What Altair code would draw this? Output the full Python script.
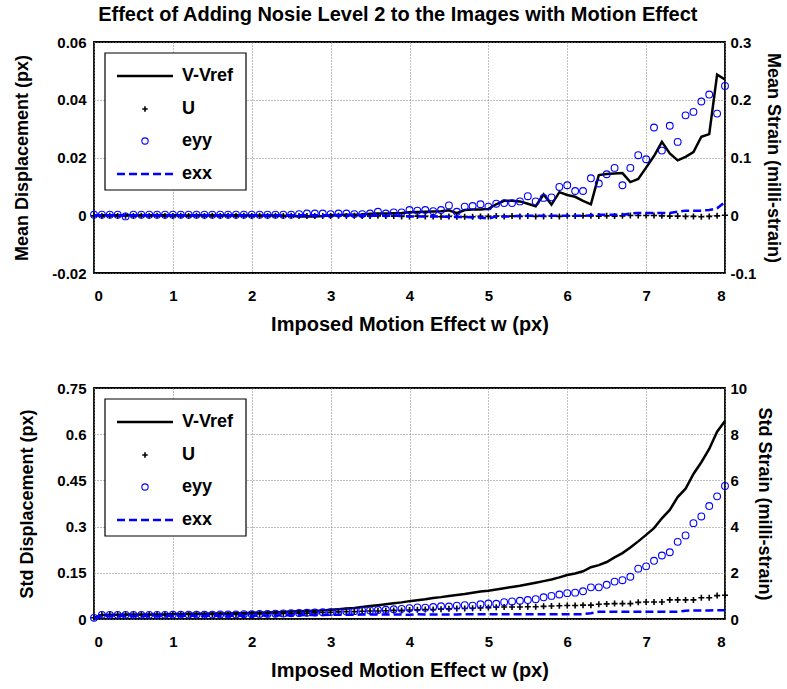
import altair as alt
import pandas as pd

FONT = "Liberation Sans"

motion_w = [0.0, 0.1, 0.2, 0.3, 0.4, 0.5, 0.6, 0.7, 0.8, 0.9,
            1.0, 1.1, 1.2, 1.3, 1.4, 1.5, 1.6, 1.7, 1.8, 1.9,
            2.0, 2.1, 2.2, 2.3, 2.4, 2.5, 2.6, 2.7, 2.8, 2.9,
            3.0, 3.1, 3.2, 3.3, 3.4, 3.5, 3.6, 3.7, 3.8, 3.9,
            4.0, 4.1, 4.2, 4.3, 4.4, 4.5, 4.6, 4.7, 4.8, 4.9,
            5.0, 5.1, 5.2, 5.3, 5.4, 5.5, 5.6, 5.7, 5.8, 5.9,
            6.0, 6.1, 6.2, 6.3, 6.4, 6.5, 6.6, 6.7, 6.8, 6.9,
            7.0, 7.1, 7.2, 7.3, 7.4, 7.5, 7.6, 7.7, 7.8, 7.9,
            8.0]

# ---- top panel: mean values ----
mean_v = [0.0000, 0.0000, 0.0000, 0.0000, 0.0000, 0.0000, 0.0000, 0.0000, 0.0000, 0.0000,
          0.0000, 0.0000, -0.0001, 0.0000, 0.0000, 0.0000, -0.0001, 0.0000, 0.0000, 0.0000,
          -0.0001, -0.0001, -0.0001, -0.0001, -0.0002, -0.0002, -0.0004, -0.0004, -0.0004, -0.0003,
          0.0000, 0.0001, 0.0002, 0.0002, 0.0003, 0.0005, 0.0006, 0.0006, 0.0007, 0.0008,
          0.0010, 0.0011, 0.0012, 0.0013, 0.0014, 0.0017, 0.0007, 0.0018, 0.0020, 0.0020,
          0.0022, 0.0038, 0.0050, 0.0050, 0.0048, 0.0040, 0.0031, 0.0072, 0.0037, 0.0080,
          0.0070, 0.0064, 0.0050, 0.0038, 0.0139, 0.0143, 0.0145, 0.0146, 0.0115, 0.0126,
          0.0165, 0.0205, 0.0254, 0.0214, 0.0190, 0.0202, 0.0219, 0.0272, 0.0281, 0.0487,
          0.0470]
mean_u = [-0.0002, -0.0003, -0.0002, -0.0003, -0.0002, -0.0003, -0.0002, -0.0003, -0.0002, -0.0003,
          -0.0003, -0.0002, -0.0003, -0.0002, -0.0003, -0.0002, -0.0003, -0.0002, -0.0003, -0.0002,
          -0.0003, -0.0002, -0.0003, -0.0002, -0.0003, -0.0002, -0.0003, -0.0003, -0.0003, -0.0003,
          -0.0003, -0.0002, -0.0003, -0.0002, -0.0003, -0.0003, -0.0002, -0.0003, -0.0003, -0.0004,
          -0.0004, -0.0003, -0.0004, -0.0004, -0.0005, -0.0004, -0.0005, -0.0005, -0.0005, -0.0004,
          -0.0004, -0.0003, -0.0004, -0.0003, -0.0004, -0.0003, -0.0004, -0.0004, -0.0003, -0.0004,
          -0.0002, -0.0003, -0.0002, -0.0002, -0.0003, -0.0002, -0.0003, -0.0002, -0.0001, -0.0001,
          -0.0001, -0.0001, -0.0002, -0.0003, -0.0003, -0.0004, -0.0004, -0.0005, -0.0004, -0.0002,
          0.0000]
mean_eyy = [0.001, 0.001, 0.001, 0.001, -0.002, 0.001, 0.001, 0.001, 0.001, 0.001,
            0.001, 0.001, 0.001, 0.001, 0.001, 0.001, 0.001, 0.001, 0.001, 0.001,
            0.001, 0.001, 0.001, 0.001, 0.001, 0.001, 0.002, 0.003, 0.003, 0.003,
            0.002, 0.003, 0.003, 0.002, 0.002, 0.003, 0.006, 0.003, 0.005, 0.005,
            0.009, 0.008, 0.009, 0.007, 0.009, 0.017, 0.006, 0.015, 0.016, 0.019,
            0.015, 0.020, 0.021, 0.021, 0.024, 0.033, 0.024, 0.030, 0.031, 0.049,
            0.052, 0.042, 0.042, 0.064, 0.055, 0.071, 0.082, 0.052, 0.082, 0.104,
            0.097, 0.152, 0.112, 0.155, 0.127, 0.173, 0.179, 0.197, 0.209, 0.176,
            0.224]
mean_exx = [0.000, 0.000, 0.000, 0.000, 0.000, 0.000, 0.000, 0.000, 0.000, 0.000,
            0.000, 0.000, 0.000, 0.000, 0.000, 0.000, 0.000, 0.000, 0.000, 0.000,
            0.000, 0.000, 0.000, 0.000, 0.000, 0.000, 0.000, 0.000, 0.000, 0.000,
            0.000, 0.000, 0.000, 0.000, 0.000, -0.001, -0.001, -0.001, -0.001, -0.001,
            -0.002, -0.002, -0.002, -0.002, -0.002, -0.003, -0.003, -0.003, -0.004, -0.004,
            -0.006, -0.002, -0.002, -0.002, -0.001, -0.001, -0.001, -0.001, -0.001, -0.001,
            -0.001, -0.001, -0.001, 0.000, 0.001, 0.001, 0.001, 0.001, 0.003, 0.004,
            0.004, 0.004, 0.004, 0.004, 0.006, 0.008, 0.008, 0.008, 0.009, 0.012,
            0.023]

# ---- bottom panel: std values ----
std_v = [0.004, 0.013, 0.014, 0.014, 0.015, 0.015, 0.015, 0.015, 0.015, 0.015,
         0.016, 0.016, 0.017, 0.017, 0.017, 0.018, 0.018, 0.018, 0.019, 0.019,
         0.020, 0.020, 0.021, 0.022, 0.023, 0.024, 0.025, 0.026, 0.027, 0.028,
         0.030, 0.032, 0.034, 0.036, 0.039, 0.042, 0.045, 0.048, 0.051, 0.054,
         0.058, 0.061, 0.064, 0.068, 0.071, 0.075, 0.078, 0.081, 0.085, 0.089,
         0.092, 0.096, 0.100, 0.104, 0.108, 0.113, 0.118, 0.123, 0.128, 0.135,
         0.143, 0.148, 0.155, 0.168, 0.175, 0.185, 0.200, 0.214, 0.232, 0.252,
         0.273, 0.295, 0.327, 0.354, 0.396, 0.423, 0.471, 0.509, 0.552, 0.608,
         0.643]
std_u = [0.004, 0.014, 0.014, 0.014, 0.014, 0.014, 0.014, 0.014, 0.014, 0.014,
         0.015, 0.015, 0.015, 0.015, 0.015, 0.015, 0.015, 0.015, 0.015, 0.015,
         0.016, 0.016, 0.017, 0.017, 0.018, 0.018, 0.019, 0.019, 0.020, 0.021,
         0.022, 0.023, 0.024, 0.024, 0.025, 0.026, 0.026, 0.027, 0.028, 0.028,
         0.029, 0.030, 0.031, 0.031, 0.032, 0.033, 0.034, 0.034, 0.035, 0.036,
         0.037, 0.038, 0.039, 0.039, 0.039, 0.040, 0.040, 0.041, 0.042, 0.043,
         0.044, 0.044, 0.045, 0.045, 0.048, 0.049, 0.050, 0.050, 0.050, 0.054,
         0.055, 0.055, 0.055, 0.062, 0.062, 0.062, 0.062, 0.069, 0.069, 0.076,
         0.077]
std_eyy = [0.05, 0.18, 0.18, 0.18, 0.18, 0.18, 0.18, 0.18, 0.18, 0.18,
           0.19, 0.19, 0.19, 0.19, 0.19, 0.19, 0.20, 0.20, 0.20, 0.21,
           0.21, 0.22, 0.22, 0.23, 0.24, 0.25, 0.26, 0.27, 0.28, 0.29,
           0.30, 0.31, 0.33, 0.34, 0.36, 0.37, 0.39, 0.40, 0.42, 0.44,
           0.47, 0.50, 0.49, 0.52, 0.55, 0.54, 0.58, 0.60, 0.58, 0.64,
           0.67, 0.66, 0.73, 0.76, 0.79, 0.82, 0.86, 0.94, 1.00, 1.06,
           1.12, 1.14, 1.20, 1.37, 1.37, 1.48, 1.62, 1.68, 1.83, 2.18,
           2.28, 2.52, 2.75, 2.89, 3.34, 3.62, 4.15, 4.44, 4.89, 5.31,
           5.76]
std_exx = [0.03, 0.13, 0.13, 0.13, 0.13, 0.13, 0.13, 0.13, 0.13, 0.13,
           0.14, 0.14, 0.14, 0.14, 0.14, 0.14, 0.14, 0.14, 0.14, 0.14,
           0.14, 0.15, 0.15, 0.15, 0.16, 0.16, 0.16, 0.17, 0.17, 0.17,
           0.18, 0.18, 0.18, 0.18, 0.19, 0.19, 0.19, 0.19, 0.19, 0.19,
           0.18, 0.21, 0.19, 0.20, 0.20, 0.20, 0.20, 0.21, 0.21, 0.21,
           0.21, 0.21, 0.21, 0.21, 0.21, 0.21, 0.21, 0.21, 0.21, 0.21,
           0.21, 0.21, 0.21, 0.25, 0.31, 0.31, 0.31, 0.31, 0.31, 0.31,
           0.31, 0.31, 0.31, 0.31, 0.31, 0.36, 0.37, 0.37, 0.37, 0.38,
           0.38]

x_ticks = [0, 1, 2, 3, 4, 5, 6, 7, 8]
mean_left_ticks = [-0.02, 0, 0.02, 0.04, 0.06]
mean_right_ticks = [-0.1, 0, 0.1, 0.2, 0.3]
std_left_ticks = [0, 0.15, 0.3, 0.45, 0.6, 0.75]
std_right_ticks = [0, 2, 4, 6, 8, 10]
legend_labels = ["V-Vref", "U", "eyy", "exx"]

PLOT_W = 631
PLOT_H = 231
PLUS = "M-1,0H1M0,-1V1"
BLUE = "#0000ff"
LABEL_EXPR = "'' + datum.value"


def make_panel(v, u, eyy, exx, left_dom, left_ticks, right_dom, right_ticks,
               left_title, right_title):
    df = pd.DataFrame({"w": motion_w, "V": v, "U": u, "eyy": eyy, "exx": exx})
    xenc = alt.X("w:Q", scale=alt.Scale(domain=[0, 8], nice=False, zero=False),
                 axis=alt.Axis(values=x_ticks, title="Imposed Motion Effect w (px)",
                               labelExpr=LABEL_EXPR, grid=True))
    base = alt.Chart(df).encode(x=xenc)

    laxis = alt.Axis(values=left_ticks, title=left_title, orient="left",
                     labelExpr=LABEL_EXPR, grid=True)
    lscale = alt.Scale(domain=left_dom, nice=False, zero=False)
    v_line = base.mark_line(color="black", strokeWidth=2.5).encode(
        y=alt.Y("V:Q", scale=lscale, axis=laxis))
    u_pts = base.mark_point(shape=PLUS, filled=False, color="black", size=36,
                            strokeWidth=1.6, opacity=1).encode(
        y=alt.Y("U:Q", scale=lscale, axis=laxis))
    left = alt.layer(v_line, u_pts)

    raxis = alt.Axis(values=right_ticks, title=right_title, orient="right",
                     labelExpr=LABEL_EXPR, grid=False)
    rscale = alt.Scale(domain=right_dom, nice=False, zero=False)
    eyy_pts = base.mark_point(shape="circle", filled=False, color=BLUE, size=46,
                              strokeWidth=1.1, opacity=1).encode(
        y=alt.Y("eyy:Q", scale=rscale, axis=raxis))
    exx_line = base.mark_line(color=BLUE, strokeWidth=2.5, strokeDash=[8, 4]).encode(
        y=alt.Y("exx:Q", scale=rscale, axis=raxis))
    right = alt.layer(eyy_pts, exx_line)

    # legend box drawn inside the plot area
    one = pd.DataFrame({"k": [0]})
    bx0, bx1, by0, by1 = 11, 152, 11, 148
    rows = [34, 67, 99, 132]
    leg = [
        alt.Chart(one).mark_rect(fill="white", stroke="black", strokeWidth=1.2).encode(
            x=alt.value(bx0), x2=alt.value(bx1), y=alt.value(by0), y2=alt.value(by1)),
        alt.Chart(one).mark_rule(color="black", strokeWidth=2.5).encode(
            x=alt.value(23), x2=alt.value(79), y=alt.value(rows[0])),
        alt.Chart(one).mark_point(shape=PLUS, filled=False, color="black", size=30,
                                  strokeWidth=1.6, opacity=1).encode(
            x=alt.value(51), y=alt.value(rows[1])),
        alt.Chart(one).mark_point(shape="circle", filled=False, color=BLUE, size=40,
                                  strokeWidth=1.1, opacity=1).encode(
            x=alt.value(51), y=alt.value(rows[2])),
        alt.Chart(one).mark_rule(color=BLUE, strokeWidth=2.5, strokeDash=[8, 4]).encode(
            x=alt.value(23), x2=alt.value(79), y=alt.value(rows[3])),
    ]
    for lab, ry in zip(legend_labels, rows):
        leg.append(alt.Chart(one).mark_text(align="left", baseline="middle", font=FONT,
                                            fontWeight="bold", fontSize=18, color="black").encode(
            x=alt.value(88), y=alt.value(ry), text=alt.value(lab)))

    return alt.layer(left, right, *leg).resolve_scale(y="independent").properties(
        width=PLOT_W, height=PLOT_H)


top = make_panel(mean_v, mean_u, mean_eyy, mean_exx, [-0.02, 0.06], mean_left_ticks,
                 [-0.1, 0.3], mean_right_ticks, "Mean Displacement (px)",
                 "Mean Strain (milli-strain)")
bottom = make_panel(std_v, std_u, std_eyy, std_exx, [0, 0.75], std_left_ticks,
                    [0, 10], std_right_ticks, "Std Displacement (px)",
                    "Std Strain (milli-strain)")

chart = alt.vconcat(top, bottom, spacing=45).properties(
    title=alt.TitleParams("Effect of Adding Nosie Level 2 to the Images with Motion Effect",
                          font=FONT, fontSize=20, fontWeight="bold", color="black",
                          anchor="middle", offset=9),
    padding={"left": 12, "right": 0, "top": 5, "bottom": 2},
    background="white",
).configure_axis(
    labelFont=FONT, titleFont=FONT, labelFontWeight="bold", titleFontWeight="bold",
    labelFontSize=15, titleFontSize=18, labelColor="black", titleColor="black",
    ticks=False, domain=False, gridColor="#808080", gridDash=[1, 2], gridWidth=1,
    labelPadding=8,
).configure_axisX(
    labelPadding=15, titlePadding=11, titleFontSize=20,
).configure_axisLeft(
    titlePadding=20,
).configure_axisRight(
    labelPadding=5, titlePadding=8,
).configure_view(
    stroke="black", strokeWidth=1.8,
)

chart.save("out.html", embed_options={"renderer": "svg", "actions": False})
